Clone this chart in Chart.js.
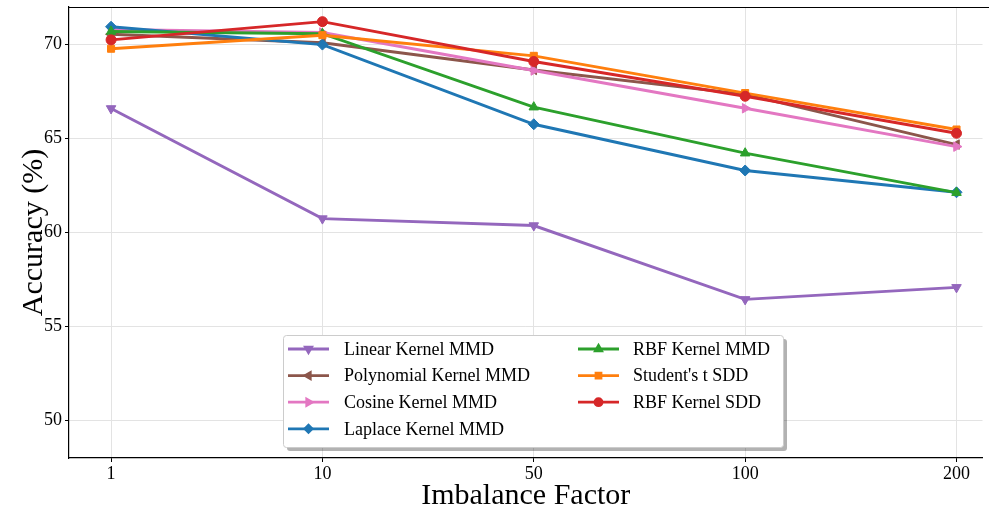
<!DOCTYPE html>
<html>
<head>
<meta charset="utf-8">
<script src="https://cdn.jsdelivr.net/npm/chart.js@4"></script>
<style>
  html, body { margin: 0; padding: 0; background: #fff; overflow: hidden; }
  #wrap { width: 989px; height: 514px; position: relative; }
  canvas { display: block; }
</style>
</head>
<body>
<div id="wrap"><canvas id="grafico"></canvas></div>
<script>
const factores = ['1', '10', '50', '100', '200'];
const ticksY = [50, 55, 60, 65, 70];

const nombres = ['Linear Kernel MMD', 'Polynomial Kernel MMD', 'Cosine Kernel MMD', 'Laplace Kernel MMD',
                 'RBF Kernel MMD', "Student's t SDD", 'RBF Kernel SDD'];
const linear     = [66.6, 60.74, 60.37, 56.44, 57.08];
const polynomial = [70.55, 70.1, 68.65, 67.35, 64.68];
const cosine     = [70.8, 70.64, 68.62, 66.61, 64.57];
const laplace    = [70.95, 70.0, 65.76, 63.3, 62.14];
const rbfMmd     = [70.7, 70.58, 66.67, 64.22, 62.12];
const student    = [69.78, 70.5, 69.4, 67.42, 65.48];
const rbfSdd     = [70.25, 71.22, 69.1, 67.25, 65.28];

const series = [linear, polynomial, cosine, laplace, rbfMmd, student, rbfSdd];
const colores = ['#9467bd', '#8c564b', '#e377c2', '#1f77b4', '#2ca02c', '#ff7f0e', '#d62728'];
const marcas = ['triangle', 'triangle', 'triangle', 'rectRot', 'triangle', 'rect', 'circle'];
const giros = [180, -90, 90, 0, 0, 0, 0];
const radios = [5.5, 5.5, 5.5, 5.5, 5.5, 5, 5];

const fuente = "'Liberation Serif', 'Times New Roman', serif";

// marco superior (estilo matplotlib)
const marco = {
    id: 'marco',
    afterDraw(chart) {
        const { ctx, chartArea: a } = chart;
        ctx.save();
        ctx.strokeStyle = '#000';
        ctx.lineWidth = 1.2;
        ctx.beginPath();
        ctx.moveTo(a.left, a.top + 0.5);
        ctx.lineTo(chart.width, a.top + 0.5);
        ctx.stroke();
        ctx.restore();
    }
};

// leyenda en dos columnas
const leyenda = {
    id: 'leyenda',
    afterDraw(chart) {
        const { ctx } = chart;
        const x0 = 283, y0 = 335, w = 500, h = 112;
        ctx.save();
        ctx.fillStyle = 'rgba(0,0,0,0.3)';
        ctx.beginPath();
        ctx.roundRect(x0 + 4, y0 + 4, w, h, 3);
        ctx.fill();
        ctx.fillStyle = '#fff';
        ctx.strokeStyle = '#cccccc';
        ctx.lineWidth = 1;
        ctx.beginPath();
        ctx.roundRect(x0 + 0.5, y0 + 0.5, w, h, 3);
        ctx.fill();
        ctx.stroke();
        ctx.font = '18px ' + fuente;
        ctx.textBaseline = 'middle';
        chart.data.datasets.forEach((ds, i) => {
            const col = Math.floor(i / 4);
            const fila = i % 4;
            const lx = col === 0 ? 288 : 578;
            const tx = col === 0 ? 344 : 633;
            const ly = 349 + fila * 26.6;
            ctx.strokeStyle = ds.borderColor;
            ctx.lineWidth = 2.8;
            ctx.beginPath();
            ctx.moveTo(lx, ly);
            ctx.lineTo(lx + 41, ly);
            ctx.stroke();
            ctx.fillStyle = ds.borderColor;
            Chart.helpers.drawPoint(ctx, {
                pointStyle: ds.pointStyle,
                rotation: ds.rotation,
                radius: 3.5,
                borderWidth: 1
            }, lx + 20.5, ly);
            ctx.fillStyle = '#000';
            ctx.fillText(ds.label, tx, ly + 1);
        });
        ctx.restore();
    }
};

new Chart(document.getElementById('grafico').getContext('2d'), {
    type: 'line',
    plugins: [marco, leyenda],
    data: {
        datasets: series.map((vals, i) => ({
            label: nombres[i],
            data: vals.map((v, j) => ({ x: j, y: v })),
            borderColor: colores[i],
            backgroundColor: colores[i],
            pointBackgroundColor: colores[i],
            pointBorderColor: colores[i],
            pointStyle: marcas[i],
            rotation: giros[i],
            pointRadius: radios[i],
            pointBorderWidth: 1,
            borderWidth: 2.9,
            tension: 0,
            order: 7 - i
        }))
    },
    options: {
        responsive: true,
        maintainAspectRatio: false,
        animation: false,
        layout: { padding: { top: 7, right: 0, left: 0, bottom: 0 } },
        plugins: {
            legend: { display: false },
            tooltip: { enabled: false }
        },
        scales: {
            x: {
                type: 'linear',
                min: -0.199,
                max: 4.123,
                afterBuildTicks: s => { s.ticks = factores.map((f, i) => ({ value: i })); },
                afterFit: s => { s.height = 56; s.paddingLeft = 0; s.paddingRight = 0; },
                ticks: {
                    callback: v => factores[v],
                    color: '#000',
                    font: { family: fuente, size: 18 },
                    padding: 1,
                    maxRotation: 0
                },
                grid: { color: '#e3e3e3', tickColor: '#000', tickLength: 4, lineWidth: 1 },
                border: { display: true, color: '#000', width: 1.2 },
                title: {
                    display: true,
                    text: 'Imbalance Factor',
                    color: '#000',
                    font: { family: fuente, size: 30 },
                    padding: { top: 0, bottom: 0 }
                }
            },
            y: {
                min: 48,
                max: 72,
                afterBuildTicks: s => { s.ticks = ticksY.map(v => ({ value: v })); },
                afterFit: s => { s.width = 69; s.paddingTop = 0; s.paddingBottom = 0; },
                ticks: {
                    color: '#000',
                    font: { family: fuente, size: 18 },
                    padding: 3
                },
                grid: { color: '#e3e3e3', tickColor: '#000', tickLength: 4, lineWidth: 1 },
                border: { display: true, color: '#000', width: 1.2 },
                title: {
                    display: true,
                    text: 'Accuracy (%)',
                    color: '#000',
                    font: { family: fuente, size: 30 },
                    padding: { top: 16, bottom: 0 }
                }
            }
        }
    }
});
</script>
</body>
</html>
